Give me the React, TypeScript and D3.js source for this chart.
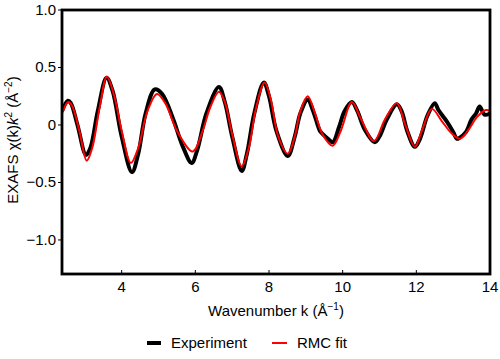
import React, { useEffect, useRef } from 'react';
import * as d3 from 'd3';

// k values (Å^-1) and chi(k)k^2 for the measured spectrum
const expK = [2.38, 2.54, 2.62, 2.8, 3.03, 3.15, 3.35, 3.59, 3.75, 4.0, 4.28, 4.45, 4.65, 4.9, 5.1, 5.4, 5.65, 5.9, 6.05, 6.3, 6.64, 6.8, 7.0, 7.26, 7.4, 7.6, 7.86, 8.0, 8.2, 8.51, 8.7, 8.85, 9.05, 9.2, 9.38, 9.46, 9.6, 9.73, 9.9, 10.05, 10.25, 10.4, 10.6, 10.87, 11.0, 11.2, 11.47, 11.6, 11.75, 11.96, 12.1, 12.3, 12.5, 12.6, 12.83, 13.0, 13.1, 13.18, 13.35, 13.5, 13.62, 13.72, 13.85, 14.0];
const expChi = [0.12, 0.21, 0.19, 0.0, -0.26, -0.2, 0.12, 0.41, 0.3, -0.1, -0.41, -0.25, 0.1, 0.31, 0.27, 0.05, -0.18, -0.33, -0.22, 0.1, 0.33, 0.2, -0.1, -0.4, -0.25, 0.1, 0.37, 0.25, -0.05, -0.27, -0.1, 0.1, 0.22, 0.12, -0.05, -0.08, -0.12, -0.15, -0.02, 0.12, 0.2, 0.12, -0.04, -0.15, -0.1, 0.05, 0.18, 0.12, -0.05, -0.19, -0.12, 0.08, 0.19, 0.13, 0.03, -0.06, -0.12, -0.11, -0.06, 0.05, 0.1, 0.16, 0.09, 0.1];

// RMC fit
const fitK = [2.38, 2.55, 2.65, 2.85, 3.05, 3.2, 3.4, 3.6, 3.8, 4.0, 4.25, 4.45, 4.7, 4.96, 5.2, 5.5, 5.93, 6.2, 6.4, 6.64, 6.8, 7.0, 7.26, 7.45, 7.65, 7.88, 8.05, 8.25, 8.51, 8.7, 8.85, 9.05, 9.25, 9.45, 9.73, 9.95, 10.25, 10.5, 10.85, 11.15, 11.47, 11.7, 11.96, 12.15, 12.42, 12.7, 12.95, 13.18, 13.4, 13.65, 13.89, 14.0];
const fitChi = [0.1, 0.2, 0.17, -0.05, -0.31, -0.2, 0.15, 0.42, 0.25, -0.05, -0.33, -0.2, 0.12, 0.27, 0.18, -0.05, -0.23, -0.05, 0.15, 0.29, 0.2, -0.08, -0.36, -0.2, 0.15, 0.37, 0.22, -0.1, -0.25, -0.1, 0.12, 0.25, 0.1, -0.08, -0.18, -0.05, 0.2, 0.05, -0.14, 0.05, 0.19, 0.0, -0.19, -0.05, 0.14, 0.03, -0.07, -0.12, -0.05, 0.07, 0.13, 0.12];

const xTicks = [4, 6, 8, 10, 12, 14];
const yTicks = [1.0, 0.5, 0, -0.5, -1.0];
const yTickLabels = ['1.0', '0.5', '0', '\u22120.5', '\u22121.0'];

const W = 500;
const H = 359;
const FONT = 'Liberation Sans, Arial, sans-serif';

const App = () => {
  const ref = useRef<SVGSVGElement>(null);

  useEffect(() => {
    const svg = d3.select(ref.current);
    svg.selectAll('*').remove();

    const margin = { top: 10, right: 10, bottom: 85, left: 62 };
    const width = W - margin.left - margin.right;
    const height = H - margin.top - margin.bottom;

    const x = d3.scaleLinear().domain([2.38, 14]).range([0, width]);
    const y = d3.scaleLinear().domain([-1.296, 1.0]).range([height, 0]);

    const g = svg.append('g').attr('transform', `translate(${margin.left},${margin.top})`);

    g.append('clipPath')
      .attr('id', 'plot-clip')
      .append('rect')
      .attr('width', width)
      .attr('height', height);

    const line = d3
      .line<[number, number]>()
      .x((d) => x(d[0]))
      .y((d) => y(d[1]))
      .curve(d3.curveCatmullRom.alpha(0.5));

    const expData = expK.map((k, i) => [k, expChi[i]] as [number, number]);
    const fitData = fitK.map((k, i) => [k, fitChi[i]] as [number, number]);

    const curves = g.append('g').attr('clip-path', 'url(#plot-clip)');
    curves
      .append('path')
      .datum(expData)
      .attr('d', line)
      .attr('fill', 'none')
      .attr('stroke', '#000')
      .attr('stroke-width', 4)
      .attr('stroke-linejoin', 'round');
    curves
      .append('path')
      .datum(fitData)
      .attr('d', line)
      .attr('fill', 'none')
      .attr('stroke', '#f00')
      .attr('stroke-width', 2);

    // frame
    g.append('rect')
      .attr('width', width)
      .attr('height', height)
      .attr('fill', 'none')
      .attr('stroke', '#000')
      .attr('stroke-width', 2.8);

    // x ticks point inward
    g.selectAll('.xtick')
      .data(xTicks)
      .enter()
      .append('line')
      .attr('x1', (d) => x(d))
      .attr('x2', (d) => x(d))
      .attr('y1', height)
      .attr('y2', height - 4)
      .attr('stroke', '#000')
      .attr('stroke-width', 1);
    g.selectAll('.xlabel')
      .data(xTicks)
      .enter()
      .append('text')
      .attr('x', (d) => x(d))
      .attr('y', height + 18)
      .attr('text-anchor', 'middle')
      .attr('font-family', FONT)
      .attr('font-size', 15)
      .text((d) => d);

    // y ticks point outward
    g.selectAll('.ytick')
      .data(yTicks)
      .enter()
      .append('line')
      .attr('x1', -4)
      .attr('x2', 0)
      .attr('y1', (d) => y(d))
      .attr('y2', (d) => y(d))
      .attr('stroke', '#000')
      .attr('stroke-width', 1);
    g.selectAll('.ylabel')
      .data(yTicks)
      .enter()
      .append('text')
      .attr('x', -6)
      .attr('y', (d) => y(d) + 5)
      .attr('text-anchor', 'end')
      .attr('font-family', FONT)
      .attr('font-size', 15)
      .text((d, i) => yTickLabels[i]);

    // axis titles
    const xt = svg
      .append('text')
      .attr('x', margin.left + width / 2)
      .attr('y', 316)
      .attr('text-anchor', 'middle')
      .attr('font-family', FONT)
      .attr('font-size', 15);
    xt.append('tspan').text('Wavenumber k (Å');
    xt.append('tspan').attr('font-size', 10).attr('dy', -6).text('\u22121');
    xt.append('tspan').attr('dy', 6).text(')');

    const yt = svg
      .append('text')
      .attr('transform', `translate(18,140) rotate(-90)`)
      .attr('text-anchor', 'middle')
      .attr('font-family', FONT)
      .attr('font-size', 15);
    yt.append('tspan').text('EXAFS χ(k)');
    yt.append('tspan').attr('font-style', 'italic').text('k');
    yt.append('tspan').attr('font-size', 10).attr('dy', -6).text('2');
    yt.append('tspan').attr('dy', 6).text(' (Å');
    yt.append('tspan').attr('font-size', 10).attr('dy', -6).text('\u22122');
    yt.append('tspan').attr('dy', 6).text(')');

    // legend
    const lg = svg.append('g').attr('transform', 'translate(0,343)');
    lg.append('line').attr('x1', 147).attr('x2', 161).attr('stroke', '#000').attr('stroke-width', 4);
    lg.append('text')
      .attr('x', 171)
      .attr('y', 5)
      .attr('font-family', FONT)
      .attr('font-size', 15)
      .text('Experiment');
    lg.append('line').attr('x1', 272).attr('x2', 287).attr('stroke', '#f00').attr('stroke-width', 2);
    lg.append('text')
      .attr('x', 297)
      .attr('y', 5)
      .attr('font-family', FONT)
      .attr('font-size', 15)
      .text('RMC fit');
  }, []);

  return (
    <svg
      ref={ref}
      width={W}
      height={H}
      style={{ position: 'absolute', left: 0, top: 0, background: '#fff' }}
    />
  );
};

export default App;
